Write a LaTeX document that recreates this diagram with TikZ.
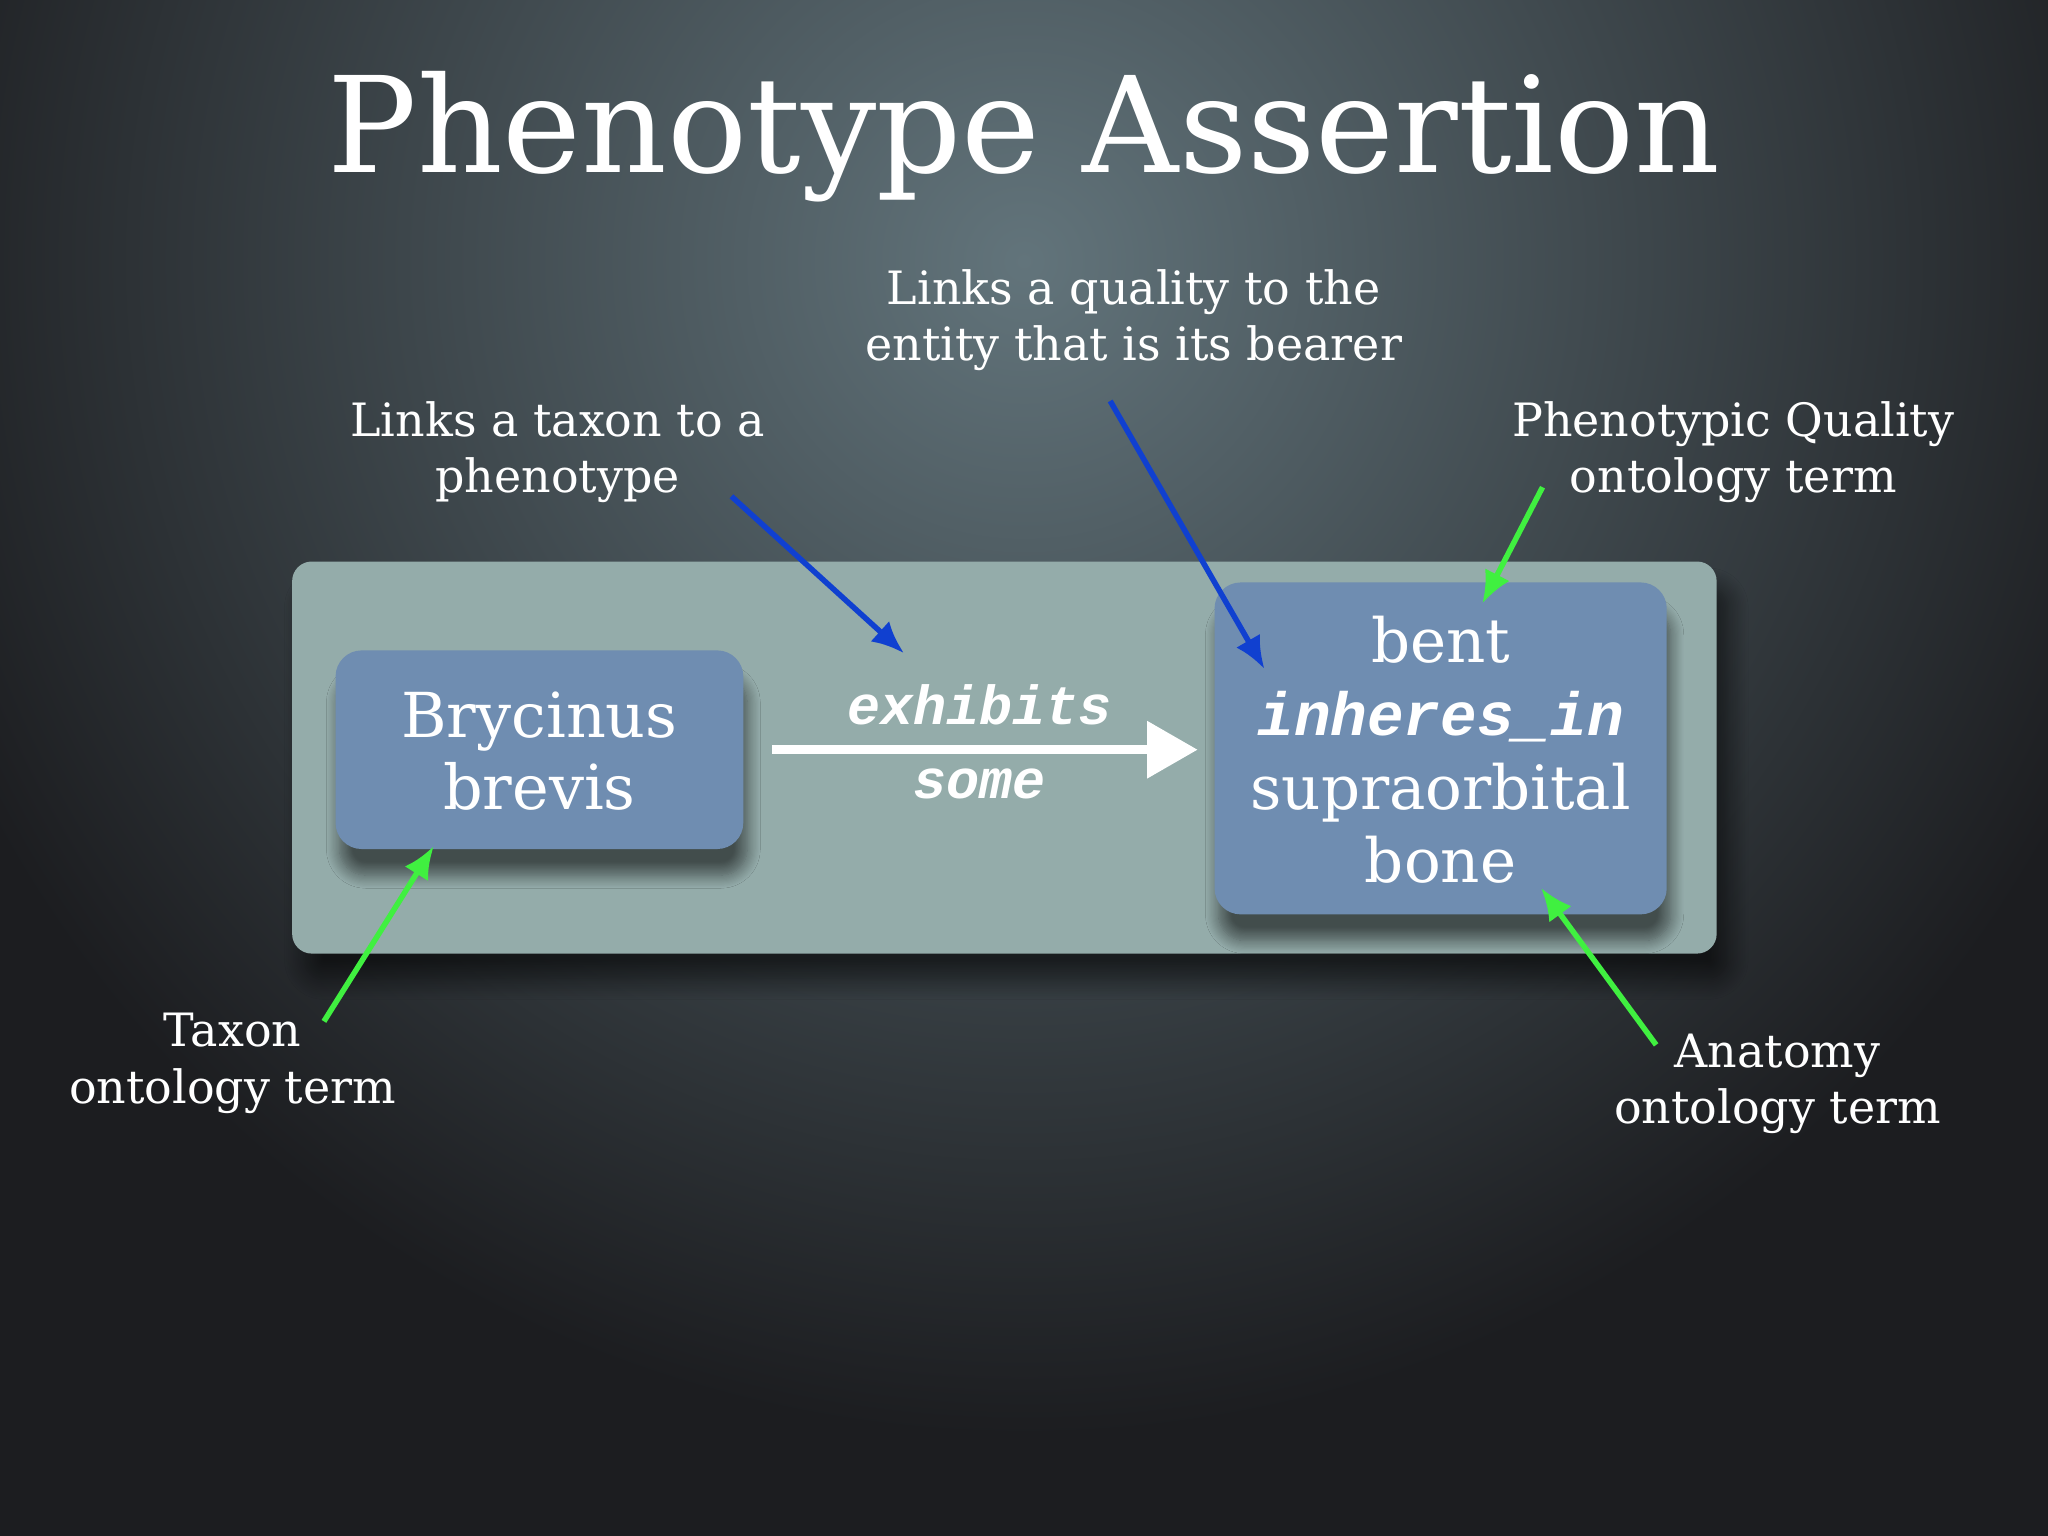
\documentclass[tikz,border=0pt]{standalone}
\usepackage{fontspec}
\setmainfont{DejaVu Serif}
\newfontfamily\monob{Liberation Mono}
\usetikzlibrary{arrows.meta,shadows.blur}
\definecolor{outerbox}{HTML}{94ACAA}
\definecolor{innerbox}{HTML}{6F8DB1}
\definecolor{bluearr}{HTML}{1040D0}
\definecolor{greenarr}{HTML}{40F040}
\definecolor{bgin}{HTML}{62747B}
\definecolor{bgout}{HTML}{1C1D20}
\begin{document}
\begin{tikzpicture}[x=0.01cm,y=-0.01cm,
  lbl/.style={text=white,align=center,font=\fontsize{10}{12.3}\selectfont},
  ibox/.style={fill=innerbox,rounded corners=0.2cm,blur shadow={shadow xshift=0.03cm,shadow yshift=-0.2cm,shadow blur radius=0.1cm,shadow blur steps=12,shadow opacity=55}},
  barr/.style={draw=bluearr,line width=1.2pt,-{Latex[length=7pt,width=6pt]}},
  garr/.style={draw=greenarr,line width=1.2pt,-{Latex[length=7pt,width=6pt]}}]
\useasboundingbox (0,0) rectangle (1568,1176);
\begin{scope}
\clip (0,0) rectangle (1568,1176);
\fill[bgout] (0,0) rectangle (1568,1176);
\shade[inner color=bgin, outer color=bgout] (-116,-700) rectangle (1684,1100);
\end{scope}
\node[text=white,font=\fontsize{29}{32}\selectfont] (title) at (784,105) {Phenotype Assertion};
\node[fill=outerbox,rounded corners=0.15cm,minimum width=10.9cm,minimum height=3.0cm,blur shadow={shadow yshift=-0.2cm,shadow blur radius=0.15cm,shadow blur steps=12,shadow opacity=55}] (outer) at (769,580) {};
\node[ibox,minimum width=3.12cm,minimum height=1.52cm] (left) at (413,574) {};
\node[text=white,align=center,font=\fontsize{13.5}{15.8}\selectfont] (lt) at (413,575) {Brycinus\\brevis};
\node[ibox,minimum width=3.46cm,minimum height=2.54cm] (right) at (1103,573) {};
\node[text=white,align=center,font=\fontsize{13.3}{16}\selectfont] (rt) at (1103,574) {bent\\{\monob\bfseries\itshape inheres\_in}\\supraorbital\\bone};
\coordinate (a1) at (591,574); \coordinate (a2) at (917,574);
\draw[white,line width=2pt,-{Triangle[length=11pt,width=12pt]}] (a1) -- (a2);
\node[text=white,align=center,font=\monob\bfseries\itshape\fontsize{12}{16}\selectfont] (ex) at (750,568) {exhibits\\some};
\node[lbl] (q) at (868,245) {Links a quality to the\\entity that is its bearer};
\node[lbl] (t) at (427,346) {Links a taxon to a\\phenotype};
\node[lbl] (p) at (1327,346) {Phenotypic Quality\\ontology term};
\node[lbl] (tx) at (178,814) {Taxon\\ontology term};
\node[lbl] (an) at (1361,830) {Anatomy\\ontology term};
\coordinate (b1s) at (560,380); \coordinate (b1e) at (692,500);
\coordinate (b2s) at (850,307); \coordinate (b2e) at (968,512);
\coordinate (g1s) at (1181,373); \coordinate (g1e) at (1135,462);
\coordinate (g2s) at (248,782); \coordinate (g2e) at (332,648);
\coordinate (g3s) at (1268,800); \coordinate (g3e) at (1180,680);
\draw[barr] (b1s) -- (b1e);
\draw[barr] (b2s) -- (b2e);
\draw[garr] (g1s) -- (g1e);
\draw[garr] (g2s) -- (g2e);
\draw[garr] (g3s) -- (g3e);
\end{tikzpicture}
\end{document}
